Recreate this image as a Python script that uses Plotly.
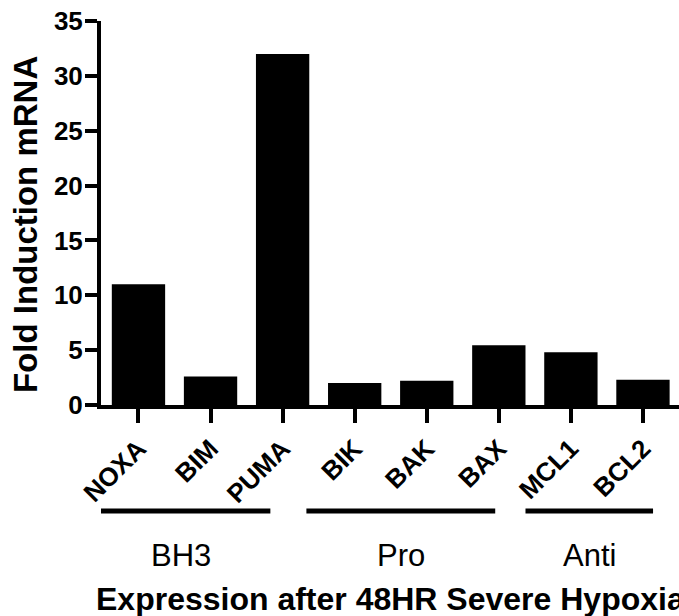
import plotly.graph_objects as go

genes = ["NOXA", "BIM", "PUMA", "BIK", "BAK", "BAX", "MCL1", "BCL2"]
fold_induction = [11.0, 2.6, 32.0, 2.0, 2.2, 5.45, 4.8, 2.3]
y_ticks = [0, 5, 10, 15, 20, 25, 30, 35]
groups = ["BH3", "Pro", "Anti"]

FONT = "Liberation Sans, Arial, sans-serif"

fig = go.Figure()
fig.add_trace(go.Bar(x=list(range(len(genes))), y=fold_induction,
                     marker=dict(color="black", line=dict(width=0)),
                     width=0.74))

W, H = 679, 616
ml, mr, mt, mb = 101, 0, 21, 211

fig.update_layout(
    width=W, height=H,
    margin=dict(l=ml, r=mr, t=mt, b=mb),
    paper_bgcolor="white", plot_bgcolor="white",
    showlegend=False,
    font=dict(family=FONT, color="black"),
    xaxis=dict(
        range=[-0.52, 7.5], tickmode="array",
        tickvals=list(range(len(genes))), ticktext=genes,
        tickangle=-45, ticks="outside", ticklen=14, tickwidth=4,
        tickcolor="black", showline=True, linewidth=4, linecolor="black",
        showgrid=False, zeroline=False,
        tickfont=dict(family=FONT, size=26, weight="bold", color="black"),
    ),
    yaxis=dict(
        range=[0, 35], tickmode="array", tickvals=y_ticks,
        ticks="outside", ticklen=12, tickwidth=4, tickcolor="black",
        showline=True, linewidth=4, linecolor="black",
        showgrid=False, zeroline=False, ticklabelstandoff=-3,
        tickfont=dict(family=FONT, size=26, weight="bold", color="black"),
    ),
)

plot_w = W - ml - mr
plot_h = H - mt - mb

def px_to_paper_y(py):
    return (H - mb - py) / plot_h

def px_to_paper_x(px):
    return (px - ml) / plot_w

fig.add_annotation(x=px_to_paper_x(25), y=px_to_paper_y(225), xref="paper", yref="paper",
                   text="Fold Induction mRNA", showarrow=False, textangle=-90,
                   xanchor="center", yanchor="middle",
                   font=dict(family=FONT, size=33, weight="bold", color="black"))

group_spans = [(-0.65, 1.83), (2.33, 4.95), (5.37, 7.14)]
line_y = px_to_paper_y(511)
for name, (x0, x1) in zip(groups, group_spans):
    fig.add_shape(type="line", xref="x", yref="paper", x0=x0, x1=x1,
                  y0=line_y, y1=line_y, line=dict(color="black", width=5))
    fig.add_annotation(x=(x0 + x1) / 2, y=px_to_paper_y(555), xref="x", yref="paper",
                       text=name, showarrow=False, xanchor="center", yanchor="middle",
                       font=dict(family=FONT, size=31, color="black"))

fig.add_annotation(x=0.5, y=px_to_paper_y(599), xref="paper", yref="paper",
                   text="Expression after 48HR Severe Hypoxia", showarrow=False,
                   xanchor="center", yanchor="middle",
                   font=dict(family=FONT, size=32, weight="bold", color="black"))

fig.write_html("out.html")
